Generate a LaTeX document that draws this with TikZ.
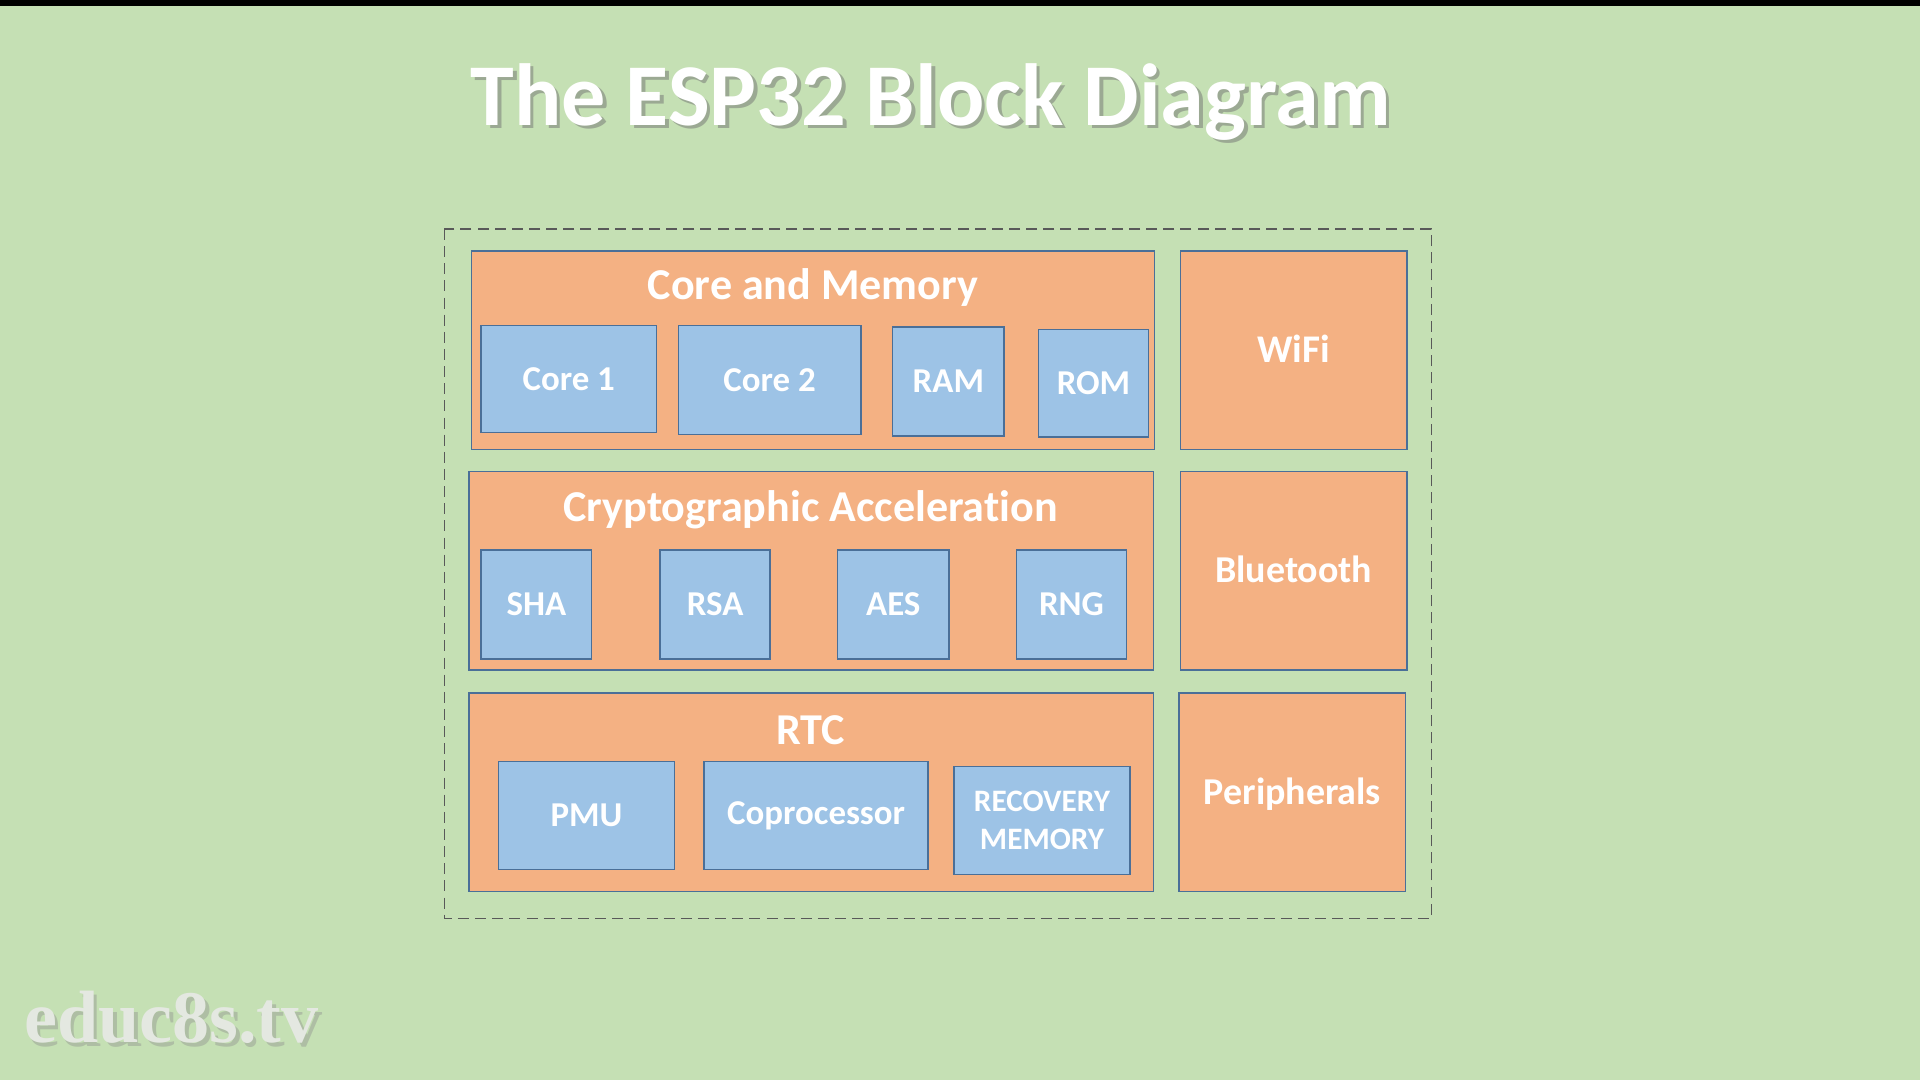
\documentclass[tikz,border=0pt]{standalone}
\usepackage{fontspec}
\setmainfont{Carlito}[Ligatures=NoCommon]
\newfontfamily\markfont{Liberation Serif}
\definecolor{bggreen}{HTML}{C5E0B4}
\definecolor{blockorange}{HTML}{F4B183}
\definecolor{unitblue}{HTML}{9DC3E6}
\definecolor{edgeblue}{HTML}{4A6F98}
\definecolor{dashgray}{HTML}{595959}
\definecolor{markgray}{HTML}{E4E8E1}
\tikzset{
    group/.style={draw=edgeblue, line width=1.2pt, fill=blockorange, inner sep=0pt},
    sidegroup/.style={group, minimum width=185, minimum height=162, text=white,
        font=\bfseries\fontsize{31}{33}\selectfont, text depth=2pt},
    unit/.style={draw=edgeblue, line width=1.2pt, fill=unitblue, inner sep=0pt,
        text=white, font=\bfseries\fontsize{28.5}{30}\selectfont, align=center},
    grouptitle/.style={text=white, font=\bfseries\fontsize{36}{38}\selectfont},
}
\begin{document}
\begin{tikzpicture}[x=1pt, y=-1pt]
    \useasboundingbox[fill=bggreen] (0,0) rectangle (1568,882);
    \fill[black] (0,0) rectangle (1568,5);
    % title with shadow
    \node[text=black!55, opacity=0.5, font=\bfseries\fontsize{72}{76}\selectfont] at (763,86) {The ESP32 Block Diagram};
    \node[text=white, font=\bfseries\fontsize{72}{76}\selectfont] (title) at (760,83) {The ESP32 Block Diagram};
    % outer frame
    \draw[dashgray, line width=1.4pt, dash pattern=on 9pt off 5pt] (363,187) rectangle (1169,750);
    % core and memory
    \node[group, minimum width=558, minimum height=162] (coremem) at (664,286) {};
    \node[grouptitle] (coremem title) at (664,235) {Core and Memory};
    \node[unit, minimum width=143, minimum height=87] (core1) at (464.5,309.5) {Core 1};
    \node[unit, minimum width=149, minimum height=89] (core2) at (628.5,310.5) {Core 2};
    \node[unit, minimum width=91, minimum height=89] (ram) at (774.5,311.5) {RAM};
    \node[unit, minimum width=90, minimum height=88] (rom) at (893,313) {ROM};
    \node[sidegroup, font=\bfseries\fontsize{32}{34}\selectfont] (wifi) at (1056.5,286) {WiFi};
    % cryptographic acceleration
    \node[group, minimum width=559, minimum height=162] (crypto) at (662.5,466) {};
    \node[grouptitle] (crypto title) at (662,416) {Cryptographic Acceleration};
    \node[unit, minimum width=90, minimum height=89] (sha) at (438,493.5) {SHA};
    \node[unit, minimum width=90, minimum height=89] (rsa) at (584,493.5) {RSA};
    \node[unit, minimum width=91, minimum height=89] (aes) at (729.5,493.5) {AES};
    \node[unit, minimum width=90, minimum height=89] (rng) at (875,493.5) {RNG};
    \node[sidegroup] (bluetooth) at (1056.5,466) {Bluetooth};
    % rtc
    \node[group, minimum width=559, minimum height=162] (rtc) at (662.5,647) {};
    \node[grouptitle] (rtc title) at (662,596) {RTC};
    \node[unit, minimum width=144, minimum height=88] (pmu) at (479,666) {PMU};
    \node[unit, minimum width=183, minimum height=88] (copro) at (666.5,666) {Coprocessor};
    \node[unit, minimum width=144, minimum height=88, font=\bfseries\fontsize{25.5}{31}\selectfont] (recovery) at (851,670) {RECOVERY\\MEMORY};
    \node[sidegroup] (peripherals) at (1055.5,647) {Peripherals};
    % watermark
    \node[text=black!45, opacity=0.4, font=\markfont\bfseries\fontsize{60.5}{62}\selectfont] at (143,834) {educ8s.tv};
    \node[text=markgray, font=\markfont\bfseries\fontsize{60.5}{62}\selectfont] (mark) at (140,831) {educ8s.tv};
\end{tikzpicture}
\end{document}
